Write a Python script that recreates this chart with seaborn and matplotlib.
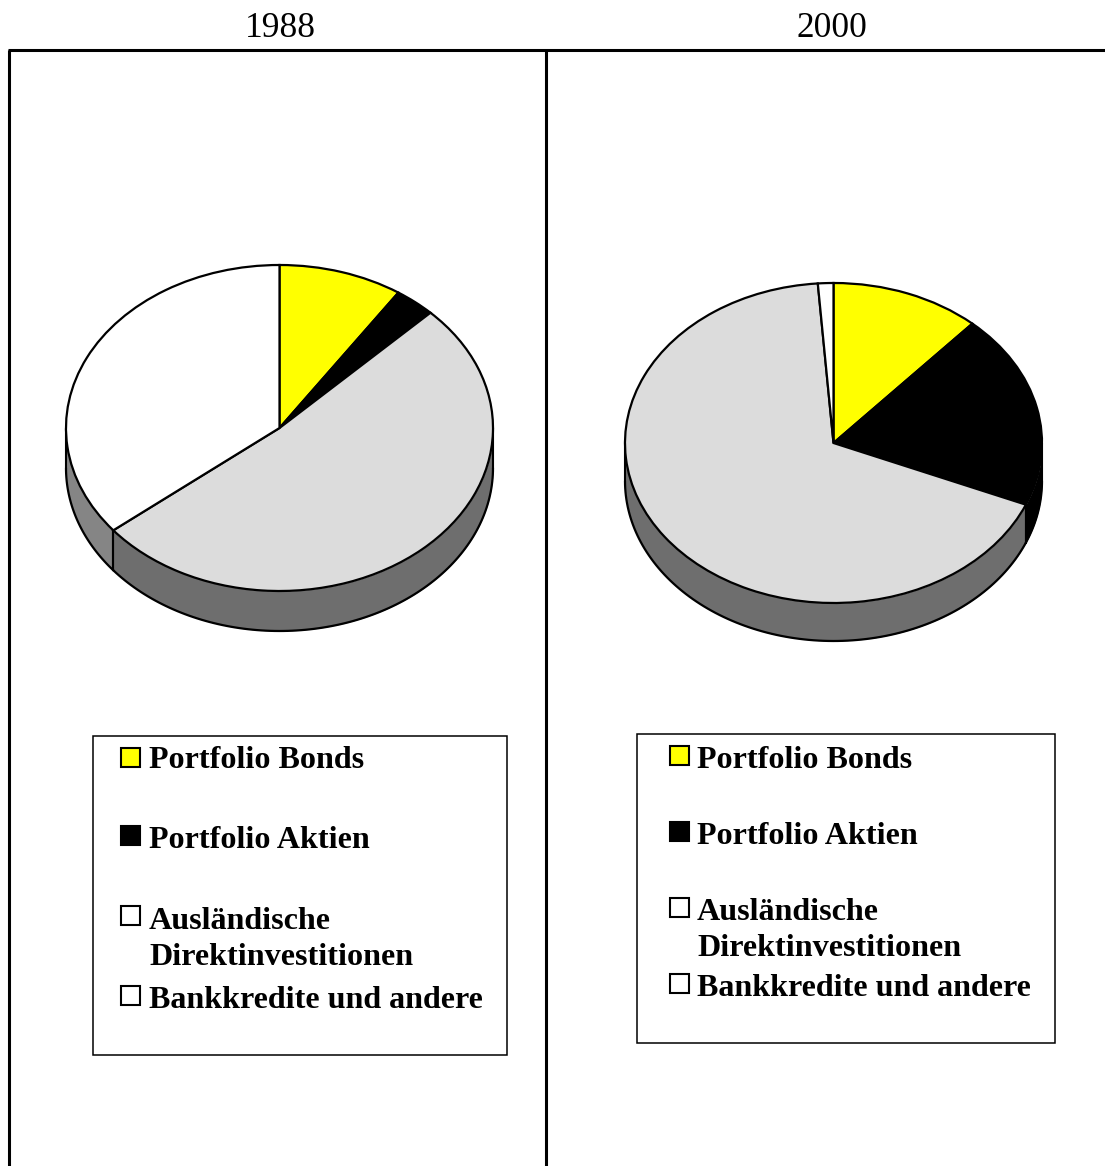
import numpy as np
import matplotlib
matplotlib.use("Agg")
import matplotlib.pyplot as plt
from matplotlib.lines import Line2D
from matplotlib.patches import Rectangle
import seaborn as sns

sns.set_theme(style="white")
plt.rcParams["font.family"] = ["Liberation Serif", "DejaVu Serif"]
plt.rcParams["text.kerning_factor"] = 0

W, H = 1105, 1166

# Capital flow shares in percent
categories = ["Portfolio Bonds", "Portfolio Aktien",
              "Ausländische\nDirektinvestitionen", "Bankkredite und andere"]
shares_1988 = [9.4, 3.1, 51.7, 35.8]
shares_2000 = [11.6, 19.7, 67.5, 1.2]
years = ["1988", "2000"]

top_colors = sns.color_palette(["#ffff00", "#000000", "#dcdcdc", "#ffffff"])
side_colors = sns.color_palette(["#808000", "#000000", "#6e6e6e", "#858585"])
swatch_colors = ["#ffff00", "#000000", "#ffffff", "#ffffff"]

fig = plt.figure(figsize=(W / 100, H / 100), dpi=100, facecolor="white")

# Page-level layer in pixel coordinates for frame, headings and legends
page = fig.add_axes([0, 0, 1, 1], zorder=3)
page.set_xlim(0, W)
page.set_ylim(H, 0)
page.axis("off")
page.patch.set_alpha(0)


def draw_pie(values, cx, cy, rx, ry, depth):
    """Tilted pie: an elliptical ax.pie over a rim built from the same shares."""
    ax = fig.add_axes([(cx - rx) / W, 1 - (cy + ry + depth) / H,
                       2 * rx / W, (2 * ry + depth) / H], zorder=2)
    d = depth / ry
    edges = 90 - np.cumsum([0] + list(values)) * 3.6
    for i in range(len(values)):
        hi, lo = edges[i], edges[i + 1]
        # Only the part of a slice facing the viewer shows a rim
        for a, b in [(-180, 0), (-540, -360)]:
            t_lo, t_hi = max(lo, a), min(hi, b)
            if t_hi <= t_lo:
                continue
            t = np.radians(np.linspace(t_lo, t_hi, 120))
            x, y = np.cos(t), np.sin(t)
            ax.fill_between(x, y, y - d, color=side_colors[i], lw=0, zorder=1)
            ax.plot(x, y - d, color="black", lw=1.6, zorder=2, clip_on=False)
            for end in (t[0], t[-1]):
                ax.plot([np.cos(end)] * 2, [np.sin(end), np.sin(end) - d],
                        color="black", lw=1.5, zorder=2, clip_on=False)
    wedges, _ = ax.pie(values, colors=top_colors, startangle=90, counterclock=False,
                       radius=1, wedgeprops=dict(edgecolor="black", linewidth=1.6))
    for w in wedges:
        w.set_zorder(3)
        w.set_clip_on(False)
    ax.set_aspect("auto")
    ax.set_xlim(-1, 1)
    ax.set_ylim(-1 - d, 1)
    ax.axis("off")


draw_pie(shares_1988, 279.5, 428, 213.5, 163, 40)
draw_pie(shares_2000, 833.5, 443, 208.5, 160, 38)

# Frame around the two panels
for xs, ys in [((7.5, W), (50, 50)), ((9, 9), (50, H)), ((546, 546), (50, H))]:
    page.add_line(Line2D(xs, ys, color="black", lw=2.2, solid_capstyle="butt"))

page.text(280, 37, years[0], fontsize=25.5, ha="center", va="baseline", color="black")
page.text(832, 37, years[1], fontsize=25.5, ha="center", va="baseline", color="black")


def draw_legend(box, swatch_x, text_x, swatch_tops, baselines):
    x0, y0, x1, y1 = box
    page.add_patch(Rectangle((x0, y0), x1 - x0, y1 - y0, fc="white", ec="black", lw=1.1))
    for label, col, top, base in zip(categories, swatch_colors, swatch_tops, baselines):
        page.add_patch(Rectangle((swatch_x, top), 19, 19, fc=col, ec="black", lw=1.5))
        page.text(text_x, base, label, fontsize=23.1, fontweight="bold", ha="left",
                  va="baseline", color="black", linespacing=1.33)


draw_legend((93, 736, 507, 1055), 121, 149,
            [748, 826, 906, 986], [768, 848, 965, 1008])
draw_legend((637, 734, 1055, 1043), 670, 697,
            [746, 822, 898, 974], [768, 844, 956, 996])

fig.savefig("out.png", dpi=100)
